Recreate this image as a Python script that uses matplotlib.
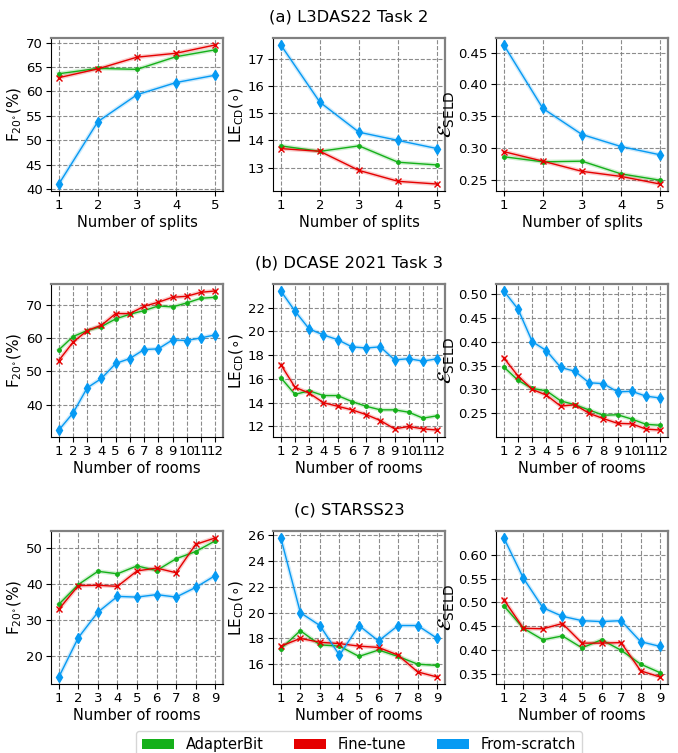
import matplotlib
matplotlib.use('Agg')
import matplotlib.pyplot as plt
from matplotlib.patches import Patch
from matplotlib.ticker import MultipleLocator, FormatStrFormatter
import numpy as np

# ---------------- data ----------------
methods = ['AdapterBit', 'Fine-tune', 'From-scratch']
colors = ['#15b01a', '#e50000', '#069af3']
markers = ['.', 'x', 'd']

titles = ['(a) L3DAS22 Task 2', '(b) DCASE 2021 Task 3', '(c) STARSS23']
xlabels = ['Number of splits', 'Number of rooms', 'Number of rooms']

x_a = [1, 2, 3, 4, 5]
x_b = [1, 2, 3, 4, 5, 6, 7, 8, 9, 10, 11, 12]
x_c = [1, 2, 3, 4, 5, 6, 7, 8, 9]

# (a) L3DAS22
f_a_adapter = [63.6, 64.7, 64.5, 67.1, 68.5]
f_a_fine = [62.8, 64.6, 67.0, 67.8, 69.5]
f_a_scratch = [41.0, 53.8, 59.3, 61.8, 63.3]
le_a_adapter = [13.8, 13.6, 13.8, 13.2, 13.1]
le_a_fine = [13.7, 13.6, 12.9, 12.5, 12.4]
le_a_scratch = [17.5, 15.4, 14.3, 14.0, 13.7]
seld_a_adapter = [0.286, 0.278, 0.279, 0.259, 0.249]
seld_a_fine = [0.294, 0.279, 0.263, 0.255, 0.243]
seld_a_scratch = [0.462, 0.362, 0.321, 0.302, 0.289]

# (b) DCASE 2021
f_b_adapter = [56.5, 60.5, 62.3, 63.5, 65.8, 67.2, 68.3, 69.7, 69.4, 70.6, 72.0, 72.3]
f_b_fine = [53.3, 58.8, 62.3, 63.9, 67.4, 67.4, 69.6, 70.8, 72.3, 72.6, 73.8, 74.2]
f_b_scratch = [32.4, 37.5, 45.1, 47.9, 52.4, 53.9, 56.6, 56.8, 59.5, 59.3, 60.1, 61.0]
le_b_adapter = [16.1, 14.7, 15.0, 14.6, 14.6, 14.1, 13.7, 13.4, 13.4, 13.2, 12.7, 12.9]
le_b_fine = [17.2, 15.3, 14.8, 14.0, 13.7, 13.4, 13.0, 12.5, 11.8, 12.0, 11.8, 11.7]
le_b_scratch = [23.4, 21.7, 20.2, 19.7, 19.3, 18.7, 18.6, 18.7, 17.6, 17.7, 17.5, 17.7]
seld_b_adapter = [0.347, 0.319, 0.302, 0.297, 0.276, 0.268, 0.257, 0.246, 0.247, 0.238, 0.227, 0.225]
seld_b_fine = [0.366, 0.328, 0.300, 0.288, 0.265, 0.268, 0.250, 0.239, 0.229, 0.228, 0.217, 0.215]
seld_b_scratch = [0.506, 0.468, 0.400, 0.381, 0.346, 0.338, 0.314, 0.312, 0.295, 0.296, 0.286, 0.282]

# (c) STARSS23
f_c_adapter = [34.3, 39.8, 43.5, 42.8, 45.0, 43.7, 47.0, 49.0, 52.0]
f_c_fine = [32.9, 39.5, 39.6, 39.3, 43.6, 44.4, 43.1, 51.0, 52.8]
f_c_scratch = [14.0, 25.0, 32.1, 36.5, 36.3, 37.0, 36.3, 39.0, 42.3]
le_c_adapter = [17.2, 18.6, 17.5, 17.4, 16.6, 17.1, 16.6, 16.0, 15.9]
le_c_fine = [17.4, 18.0, 17.7, 17.6, 17.4, 17.3, 16.7, 15.4, 15.0]
le_c_scratch = [25.8, 20.0, 19.0, 16.7, 19.0, 17.8, 19.0, 19.0, 18.0]
seld_c_adapter = [0.493, 0.446, 0.422, 0.430, 0.405, 0.422, 0.400, 0.371, 0.353]
seld_c_fine = [0.506, 0.446, 0.445, 0.456, 0.415, 0.415, 0.416, 0.357, 0.344]
seld_c_scratch = [0.635, 0.551, 0.489, 0.471, 0.462, 0.460, 0.462, 0.418, 0.408]

rows = [
    (x_a, [[f_a_adapter, f_a_fine, f_a_scratch],
           [le_a_adapter, le_a_fine, le_a_scratch],
           [seld_a_adapter, seld_a_fine, seld_a_scratch]]),
    (x_b, [[f_b_adapter, f_b_fine, f_b_scratch],
           [le_b_adapter, le_b_fine, le_b_scratch],
           [seld_b_adapter, seld_b_fine, seld_b_scratch]]),
    (x_c, [[f_c_adapter, f_c_fine, f_c_scratch],
           [le_c_adapter, le_c_fine, le_c_scratch],
           [seld_c_adapter, seld_c_fine, seld_c_scratch]]),
]
ylabels = [r'F$_{20^{\circ}}$(%)', r'LE$_{\rm CD}$($\circ$)', r'$\mathcal{E}_{\rm SELD}$']
ylabel_sizes = [11, 11, 14]
# y tick spacing per panel
ysteps = [[5, 1, 0.05], [10, 2, 0.05], [10, 2, 0.05]]
yfmts = ['%d', '%d', '%.2f']

# ---------------- layout (pixels) ----------------
W, H = 678, 753
fig = plt.figure(figsize=(W / 100, H / 100), dpi=100)

col_left = [51, 273, 496]
ax_w = 172
row_top = [38, 284, 531]
ax_h = 153
title_y = [17, 263, 510]
msizes = {'.': 5, 'x': 5, 'd': 5.5}

for r, (xs, metrics) in enumerate(rows):
    fig.text(349 / W, 1 - title_y[r] / H, titles[r], ha='center', va='center', fontsize=11.8)
    for c in range(3):
        ax = fig.add_axes([col_left[c] / W, 1 - (row_top[r] + ax_h) / H, ax_w / W, ax_h / H])
        for k in range(3):
            ys = metrics[c][k]
            ax.plot(xs, ys, color=colors[k], lw=3, alpha=0.2, zorder=2)
            ax.plot(xs, ys, color=colors[k], lw=1, marker=markers[k],
                    markersize=msizes[markers[k]], zorder=3)
        ax.set_xticks(xs)
        ax.yaxis.set_major_locator(MultipleLocator(ysteps[r][c]))
        ax.yaxis.set_major_formatter(FormatStrFormatter(yfmts[c]))
        ax.grid(True, linestyle='--', color='gray', lw=0.8, alpha=0.9)
        ax.set_axisbelow(True)
        ax.tick_params(labelsize=9.5, length=3.5, pad=2.5)
        ax.set_xlabel(xlabels[r], fontsize=10.5, labelpad=2)
        ax.set_ylabel(ylabels[c], fontsize=ylabel_sizes[c], labelpad=1)
        for s in ['top', 'right']:
            ax.spines[s].set_color('gray')
            ax.spines[s].set_linewidth(1.6)

handles = [Patch(facecolor=colors[k], label=methods[k]) for k in range(3)]
fig.legend(handles=handles, ncol=3, loc='upper center',
           bbox_to_anchor=(359 / W, 1 - 724 / H), fontsize=10.5,
           handlelength=2.2, columnspacing=2.1, frameon=True)

fig.savefig('out.png', dpi=100)
